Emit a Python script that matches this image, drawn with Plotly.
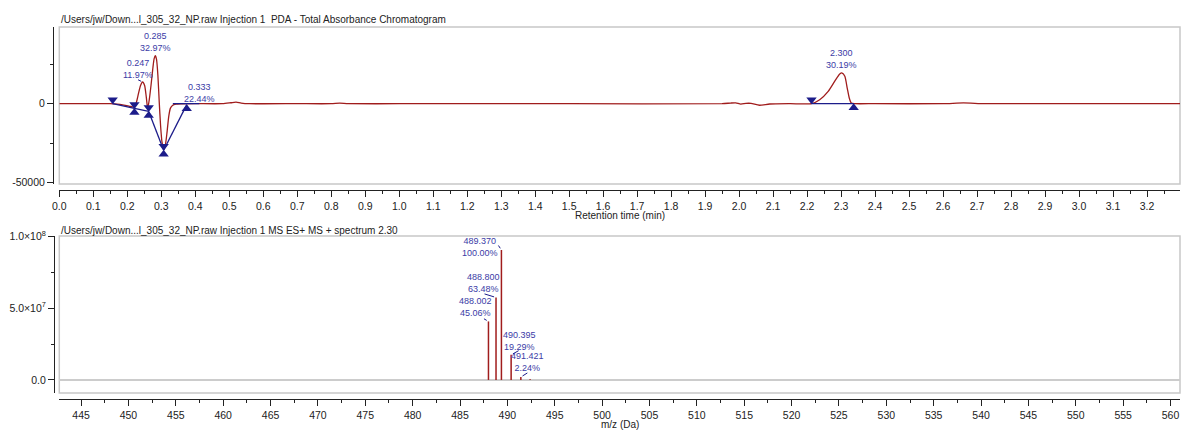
import plotly.graph_objects as go

# ---------------- data ----------------
# Chromatogram (PDA total absorbance), retention time (min) vs signal
rt = [0.000, 0.100, 0.150, 0.170, 0.190, 0.205, 0.214, 0.221, 0.227, 0.233,
      0.239, 0.245, 0.251, 0.256, 0.260, 0.265, 0.270, 0.275, 0.279, 0.2826,
      0.286, 0.290, 0.294, 0.298, 0.302, 0.307, 0.312, 0.317, 0.322, 0.327,
      0.333, 0.343, 0.360, 0.400, 0.480, 0.505, 0.520, 0.535, 0.560, 0.700,
      0.800, 0.825, 0.850, 1.000, 1.500, 1.950, 1.975, 1.990, 2.005, 2.020,
      2.035, 2.060, 2.090, 2.150, 2.213, 2.237, 2.262, 2.281, 2.296, 2.303,
      2.311, 2.318, 2.324, 2.330, 2.340, 2.400, 2.600, 2.660, 2.720, 2.800,
      3.297]
signal = [0, 0, 0, -300, -900, -1500, -2000, -2300, 1000, 6500,
          11500, 13700, 11500, 4000, -3000, 3000, 12000, 22000, 28500, 30400,
          28000, 18000, 1000, -14000, -24000, -28500, -26000, -18000, -8000, -2800,
          -1100, -300, -100, 0, 0, 600, 1000, 400, 0, 0,
          0, 300, 0, 0, 0, 0, 400, 500, -300, 200,
          200, -1000, -200, 0, 0, 2500, 7800, 14100, 18800, 19400,
          17300, 9900, 3600, 400, 0, 0, 0, 500, 0, 0,
          0]

# Integrated peaks: baseline start/end points
peak_start_rt = [0.157, 0.221, 0.263, 0.307, 2.213]
peak_start_y = [0, -3000, -4900, -29500, 0]
peak_end_rt = [0.221, 0.263, 0.307, 0.375, 2.337]
peak_end_y = [-3000, -4900, -29500, -600, 0]
extra_base_rt = [0.334, 0.412]
extra_base_y = [0, 0]

# Peak labels (apex rt, apex signal, text)
label_rt = [0.245, 0.2826, 0.333, 2.303]
label_y = [13700, 30400, -1100, 19400]
label_time = ["0.247", "0.285", "0.333", "2.300"]
label_pct = ["11.97%", "32.97%", "22.44%", "30.19%"]

# MS spectrum at 2.30 min
mz = [488.002, 488.800, 489.370, 490.395, 491.421, 492.400]
intensity = [4.08e7, 5.75e7, 9.06e7, 1.75e7, 2.03e6, 5.0e5]
mz_label = ["488.002", "488.800", "489.370", "490.395", "491.421"]
mz_pct = ["45.06%", "63.48%", "100.00%", "19.29%", "2.24%"]

x1_range = [0.0, 3.297]
y1_range = [-50800, 48500]
x2_range = [442.7, 561.0]
y2_range = [-9.1e6, 1.0035e8]
y2_tickvals = [0, 5e7, 1e8]
y2_ticktext = ["0.0", "5.0×10<sup>7</sup>", "1.0×10<sup>8</sup>"]

# ---------------- layout geometry (pixels) ----------------
W, H = 1182, 430
box_l, box_r = 59.3, 1180
top_box = (27, 184)
bot_box = (236, 393)

def py(v):
    return (H - v) / H

RED = "#a01c1c"
BLUE = "#1c1c8a"
LBL = "#3b3ba6"
TXT = "#222222"
FONT = "Liberation Sans, Arial, sans-serif"

fig = go.Figure()

# chromatogram
fig.add_trace(go.Scatter(x=rt, y=signal, mode="lines", xaxis="x", yaxis="y",
                         line=dict(color=RED, width=1.3, shape="spline", smoothing=0.6),
                         hoverinfo="skip"))

# baselines
bx, by = [], []
for a, b, c, d in zip(peak_start_rt, peak_start_y, peak_end_rt, peak_end_y):
    bx += [a, c, None]
    by += [b, d, None]
bx += extra_base_rt + [None]
by += extra_base_y + [None]
fig.add_trace(go.Scatter(x=bx, y=by, mode="lines", xaxis="x", yaxis="y",
                         line=dict(color=BLUE, width=1.3), hoverinfo="skip"))

# markers (triangles touching the baseline points)
top_h_px = top_box[1] - top_box[0]
unit_per_px = (y1_range[1] - y1_range[0]) / top_h_px
off = 4.0 * unit_per_px
fig.add_trace(go.Scatter(x=peak_start_rt, y=[v + off for v in peak_start_y], mode="markers",
                         xaxis="x", yaxis="y",
                         marker=dict(symbol="triangle-down", size=9, color=BLUE),
                         hoverinfo="skip"))
fig.add_trace(go.Scatter(x=peak_end_rt, y=[v - off for v in peak_end_y], mode="markers",
                         xaxis="x", yaxis="y",
                         marker=dict(symbol="triangle-up", size=9, color=BLUE),
                         hoverinfo="skip"))

# spectrum sticks
sx, sy = [], []
for m, i in zip(mz, intensity):
    sx += [m, m, None]
    sy += [0, i, None]
fig.add_trace(go.Scatter(x=sx, y=sy, mode="lines", xaxis="x2", yaxis="y2",
                         line=dict(color=RED, width=1.5), hoverinfo="skip"))

annotations = []
# chromatogram peak labels
chrom_shift = [(-5, 13), (0, 13.5), (27, 12), (-1, 14)]
for t, v, a, b, (dx, dy) in zip(label_rt, label_y, label_time, label_pct, chrom_shift):
    annotations.append(dict(x=t, y=v, xref="x", yref="y", text=f"{a}<br>{b}",
                            showarrow=False, xshift=dx, yshift=dy, xanchor="center",
                            yanchor="middle", font=dict(size=9, color=LBL, family=FONT)))
# leader for 0.247
annotations.append(dict(x=label_rt[0], y=label_y[0], xref="x", yref="y", text="",
                        showarrow=True, arrowhead=0, arrowwidth=1, arrowcolor=BLUE,
                        ax=-6, ay=-3, standoff=1.5))

# spectrum labels
spec_shift = [(-12.5, 14.5), (-12.5, 14), (-21, 3), (8.5, 13.5), (6.7, 15)]
spec_lead = [(-6, -3.5), (-13, -4), (-4, -6), (9, -5), (8, -5)]
for m, i, a, b, (dx, dy), (lx, ly) in zip(mz, intensity, mz_label, mz_pct, spec_shift, spec_lead):
    annotations.append(dict(x=m, y=i, xref="x2", yref="y2", text=f"{a}<br>{b}",
                            showarrow=False, xshift=dx, yshift=dy, xanchor="center",
                            yanchor="middle", font=dict(size=9, color=LBL, family=FONT)))
    annotations.append(dict(x=m, y=i, xref="x2", yref="y2", text="",
                            showarrow=True, arrowhead=0, arrowwidth=1, arrowcolor=BLUE,
                            ax=lx, ay=ly, standoff=2))

# titles
annotations.append(dict(x=box_l / W, y=py(20), xref="paper", yref="paper",
                        text="/Users/jw/Down...l_305_32_NP.raw Injection 1  PDA - Total Absorbance Chromatogram",
                        showarrow=False, xanchor="left", yanchor="middle",
                        font=dict(size=10, color=TXT, family=FONT)))
annotations.append(dict(x=box_l / W, y=py(230), xref="paper", yref="paper",
                        text="/Users/jw/Down...l_305_32_NP.raw Injection 1 MS ES+ MS + spectrum 2.30",
                        showarrow=False, xanchor="left", yanchor="middle",
                        font=dict(size=10, color=TXT, family=FONT)))
annotations.append(dict(x=(box_l + box_r) / 2 / W, y=py(215), xref="paper", yref="paper",
                        text="Retention time (min)", showarrow=False, xanchor="center",
                        yanchor="middle", font=dict(size=10, color=TXT, family=FONT)))
annotations.append(dict(x=(box_l + box_r) / 2 / W, y=py(424), xref="paper", yref="paper",
                        text="m/z (Da)", showarrow=False, xanchor="center",
                        yanchor="middle", font=dict(size=10, color=TXT, family=FONT)))

# plot boxes
shapes = []
for (t0, t1) in (top_box, bot_box):
    shapes.append(dict(type="rect", xref="paper", yref="paper",
                       x0=box_l / W, x1=box_r / W, y0=py(t1), y1=py(t0),
                       line=dict(color="#c8c8c8", width=1.5), fillcolor="rgba(0,0,0,0)",
                       layer="below"))

dom_x = [box_l / W, box_r / W]
tickfont = dict(size=10.5, color=TXT, family=FONT)
common = dict(showline=True, linecolor=TXT, linewidth=1, ticks="outside", ticklen=6,
              tickwidth=1, tickcolor=TXT, showgrid=False, tickfont=tickfont,
              automargin=False)

fig.update_layout(
    template="none",
    font=dict(family=FONT, color=TXT),
    width=W, height=H, margin=dict(l=0, r=0, t=0, b=0, pad=0),
    paper_bgcolor="white", plot_bgcolor="white", showlegend=False,
    xaxis=dict(domain=dom_x, range=x1_range, anchor="free", position=py(190),
               tick0=0, dtick=0.1, tickformat=".1f", zeroline=False,
               minor=dict(dtick=0.05, tick0=0, ticklen=3, ticks="outside", tickcolor=TXT,
                          showgrid=False),
               **common),
    yaxis=dict(domain=[py(top_box[1]), py(top_box[0])], range=y1_range, anchor="free",
               position=53 / W, tickmode="array", tickvals=[-50000, 0],
               ticktext=["-50000", "0"], zeroline=False,
               minor=dict(tickmode="linear", tick0=0, dtick=25000, ticklen=3,
                          ticks="outside", tickcolor=TXT, showgrid=False),
               **common),
    xaxis2=dict(domain=dom_x, range=x2_range, anchor="free", position=py(399),
                tick0=0, dtick=5, zeroline=False,
                minor=dict(dtick=2.5, tick0=0, ticklen=3, ticks="outside", tickcolor=TXT,
                           showgrid=False),
                **common),
    yaxis2=dict(domain=[py(bot_box[1]), py(bot_box[0])], range=y2_range, anchor="free",
                position=54 / W, tickmode="array", tickvals=y2_tickvals,
                ticktext=y2_ticktext, zeroline=True, zerolinecolor="#cccccc",
                zerolinewidth=1.5,
                minor=dict(tickmode="linear", tick0=0, dtick=2.5e7, ticklen=3,
                           ticks="outside", tickcolor=TXT, showgrid=False),
                **common),
    annotations=annotations, shapes=shapes,
)

fig.write_html("out.html")
